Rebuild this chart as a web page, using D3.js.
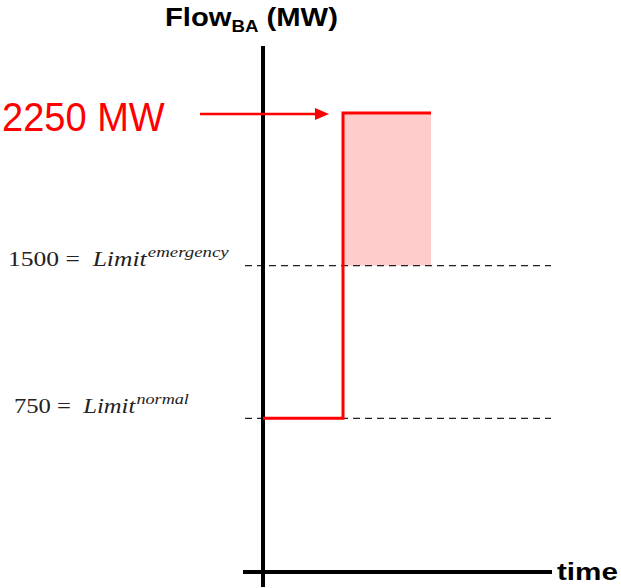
<!DOCTYPE html>
<html>
<head>
<meta charset="utf-8">
<script src="https://cdn.jsdelivr.net/npm/d3@7"></script>
<style>
  html, body { margin: 0; padding: 0; background: #fff; }
  svg { display: block; }
</style>
</head>
<body>
<svg id="chart" width="621" height="588"></svg>
<script>
// ---- data ----
const stepTimes = [0, 1, 1, 2.1];          // time (arbitrary units)
const stepFlows = [750, 750, 2250, 2250];  // Flow_BA in MW
const limitValues = [1500, 750];
const limitNames = ["emergency", "normal"];
const overloadStart = 1;
const overloadEnd = 2.1;
const peakFlow = 2250;
const peakLabel = "2250 MW";
const yTitle = ["Flow", "BA", " (MW)"];
const xTitle = "time";

// ---- scales ----
const x = d3.scaleLinear().domain([0, 3.6]).range([263, 551]);
const y = d3.scaleLinear().domain([0, 2250]).range([571, 113]);

const svg = d3.select("#chart");
const red = "#ff0000";

// helper: squeeze/stretch text horizontally to a target width
function fitWidth(sel, x0, target) {
  const w = sel.node().getBBox().width;
  const s = target / w;
  sel.attr("transform", `translate(${x0},0) scale(${s},1) translate(${-x0},0)`);
}

// overload region (between emergency limit and peak)
svg.append("rect")
  .attr("x", x(overloadStart))
  .attr("y", y(peakFlow))
  .attr("width", x(overloadEnd) - x(overloadStart))
  .attr("height", y(limitValues[0]) - y(peakFlow))
  .attr("fill", "#ffcccc");

// limit dashed lines
svg.selectAll("line.limit").data(limitValues).join("line")
  .attr("class", "limit")
  .attr("x1", 245).attr("x2", 551)
  .attr("y1", d => y(d)).attr("y2", d => y(d))
  .attr("stroke", "#222").attr("stroke-width", 1.3)
  .attr("stroke-dasharray", "7,5");

// axes
svg.append("line")
  .attr("x1", x(0)).attr("x2", x(0))
  .attr("y1", 46).attr("y2", 587)
  .attr("stroke", "#000").attr("stroke-width", 4);
svg.append("line")
  .attr("x1", 243).attr("x2", 552)
  .attr("y1", y(0) + 1).attr("y2", y(0) + 1)
  .attr("stroke", "#000").attr("stroke-width", 4);

// step line
const stepData = stepTimes.map((t, i) => [t, stepFlows[i]]);
svg.append("path")
  .datum(stepData)
  .attr("d", d3.line().x(d => x(d[0])).y(d => y(d[1])))
  .attr("fill", "none").attr("stroke", red).attr("stroke-width", 3)
  .attr("stroke-linejoin", "miter");

// arrow
const ay = y(peakFlow) + 1;
svg.append("line")
  .attr("x1", 200).attr("x2", 318)
  .attr("y1", ay).attr("y2", ay)
  .attr("stroke", red).attr("stroke-width", 2.5);
svg.append("path")
  .attr("d", `M315,${ay - 6} L329,${ay} L315,${ay + 6} Z`)
  .attr("fill", red);

// peak label
const pk = svg.append("text")
  .attr("x", 2).attr("y", 131)
  .attr("font-family", "Liberation Sans, Arial, sans-serif")
  .attr("font-size", 41).attr("fill", red)
  .text(peakLabel);
fitWidth(pk, 2, 163);

// y title
const yt = svg.append("text")
  .attr("x", 165).attr("y", 26)
  .attr("font-family", "Liberation Sans, Arial, sans-serif")
  .attr("font-weight", "bold").attr("font-size", 25).attr("fill", "#000");
yt.append("tspan").text(yTitle[0]);
yt.append("tspan").attr("font-size", 16).attr("dy", 6).text(yTitle[1]);
yt.append("tspan").attr("dy", -6).text(yTitle[2]);
fitWidth(yt, 165, 173);

// x title
const xt = svg.append("text")
  .attr("x", 557).attr("y", 580)
  .attr("font-family", "Liberation Sans, Arial, sans-serif")
  .attr("font-weight", "bold").attr("font-size", 24).attr("fill", "#000")
  .text(xTitle);
fitWidth(xt, 557, 61);

// limit labels
const labelPos = [{x0: 8, w: 221, base: 266}, {x0: 14, w: 175, base: 413}];
limitValues.forEach((v, i) => {
  const p = labelPos[i];
  const t = svg.append("text")
    .attr("x", p.x0).attr("y", p.base)
    .attr("font-family", "Liberation Serif, 'DejaVu Serif', serif")
    .attr("font-size", 21).attr("fill", "#222");
  t.append("tspan").text(`${v} =\u2002`);
  t.append("tspan").attr("font-style", "italic").text("Limit");
  t.append("tspan").attr("font-style", "italic").attr("font-size", 15.5)
    .attr("dx", 1).attr("dy", -9).text(limitNames[i]);
  fitWidth(t, p.x0, p.w);
});
</script>
</body>
</html>
